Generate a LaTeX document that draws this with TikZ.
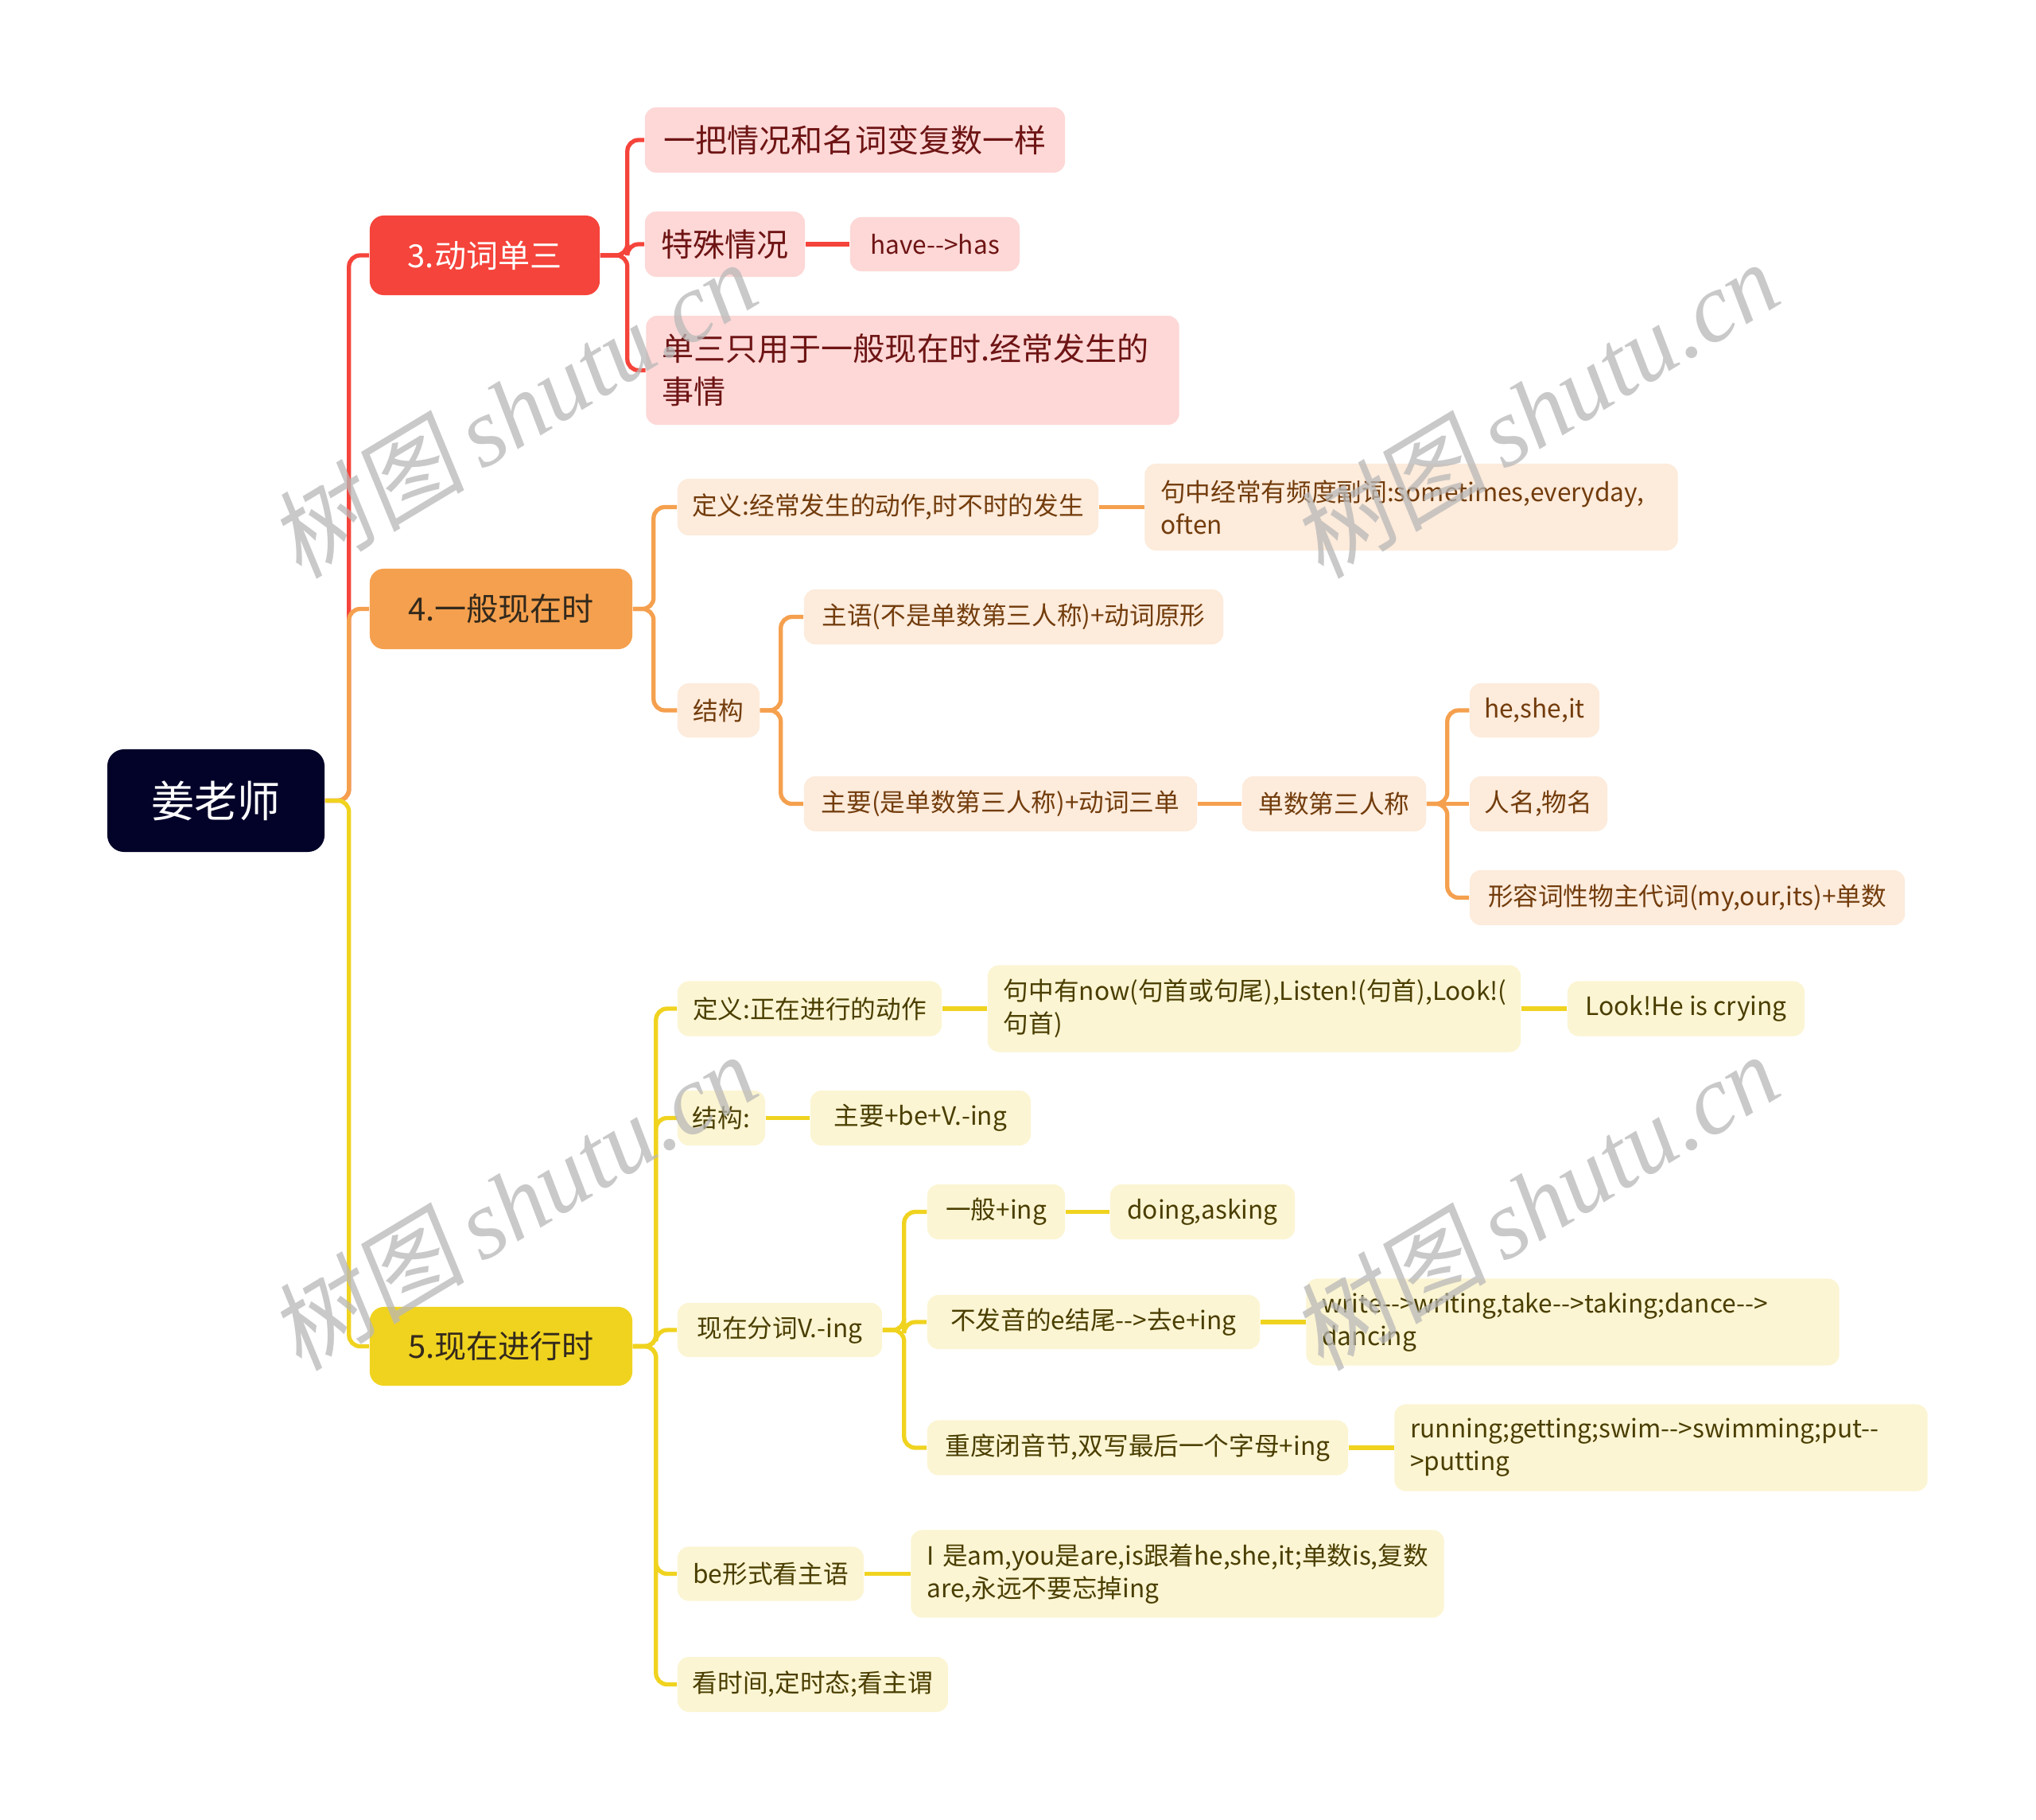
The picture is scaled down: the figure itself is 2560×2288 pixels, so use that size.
\documentclass[tikz,border=0pt]{standalone}
\usepackage{fontspec}
\setmainfont{Noto Sans CJK SC}[Ligatures=TeXOff]
\newfontfamily\wmlatin{Liberation Serif}
\newfontfamily\wmcjk{Noto Sans CJK SC}[FakeSlant=0.15]
\definecolor{rootc}{HTML}{03032A}
\definecolor{redc}{HTML}{F5443B}
\definecolor{redl}{HTML}{FDD8D7}
\definecolor{redt}{HTML}{6E1414}
\definecolor{orc}{HTML}{F5A04E}
\definecolor{orl}{HTML}{FDEBDB}
\definecolor{ort}{HTML}{723C0C}
\definecolor{yec}{HTML}{F0D31F}
\definecolor{yel}{HTML}{FCF5D3}
\definecolor{yet}{HTML}{4A3E00}
\definecolor{dark}{HTML}{33291C}
\definecolor{wmc}{HTML}{B8B8B8}
\tikzset{
  box/.style={rectangle, rounded corners=4pt, inner sep=0pt, align=center},
  multi/.style={align=left, inner xsep=0.2cm, text width=6.3cm},
  rootbox/.style={box, fill=rootc, text=white, rounded corners=6pt, font=\fontsize{15.4}{18}\selectfont},
  lone/.style={box, rounded corners=5pt, font=\fontsize{11.4}{15}\selectfont},
  rk/.style={box, fill=redl, text=redt, font=\fontsize{11.4}{15.4}\selectfont},
  rks/.style={box, fill=redl, text=redt, font=\fontsize{9}{11.7}\selectfont},
  ok/.style={box, fill=orl, text=ort, font=\fontsize{9}{11.7}\selectfont},
  yk/.style={box, fill=yel, text=yet, font=\fontsize{9}{11.7}\selectfont},
  conn/.style={line width=1.5pt, rounded corners=4pt},
  rl/.style={conn, draw=redc},
  ol/.style={conn, draw=orc},
  yl/.style={conn, draw=yec},
  wm/.style={text=wmc, opacity=0.75, inner sep=0pt}
}
\begin{document}
\begin{tikzpicture}[x=0.01cm, y=-0.01cm]
\useasboundingbox[fill=white] (0,0) rectangle (2560,2288);

% root and level 1
\node[rootbox, minimum width=2.73cm, minimum height=1.29cm] (root) at (271.5,1006.5) {姜老师};
\node[lone, fill=redc, text=white, minimum width=2.89cm, minimum height=1.00cm] (n3) at (609.5,321) {3.动词单三};
\node[lone, fill=orc, text=dark, minimum width=3.30cm, minimum height=1.01cm] (n4) at (630,765.5) {4.一般现在时};
\node[lone, fill=yec, text=dark, minimum width=3.30cm, minimum height=0.99cm] (n5) at (630,1692.5) {5.现在进行时};

% red branch
\node[rk, minimum width=5.28cm, minimum height=0.82cm] (a1) at (1075,176) {一把情况和名词变复数一样};
\node[rk, minimum width=2.01cm, minimum height=0.82cm] (a2) at (911.5,307) {特殊情况};
\node[rks, minimum width=2.13cm, minimum height=0.68cm] (a2a) at (1175.5,307) {have-->has};
\node[rk, multi, minimum height=1.37cm] (a3) at (1147.5,465.5) {单三只用于一般现在时.经常发生的\\事情};

% orange branch
\node[ok, minimum width=5.29cm, minimum height=0.71cm] (b1) at (1116.5,637.5) {定义:经常发生的动作,时不时的发生};
\node[ok, multi, minimum height=1.09cm] (b1a) at (1774.5,637.5) {句中经常有频度副词:sometimes,everyday,\\often};
\node[ok, minimum width=1.03cm, minimum height=0.68cm] (b2) at (903.5,893) {结构};
\node[ok, minimum width=5.27cm, minimum height=0.69cm] (b2a) at (1274.5,775.5) {主语(不是单数第三人称)+动词原形};
\node[ok, minimum width=4.94cm, minimum height=0.69cm] (b2b) at (1258,1010.5) {主要(是单数第三人称)+动词三单};
\node[ok, minimum width=2.31cm, minimum height=0.69cm] (b2b1) at (1677.5,1010.5) {单数第三人称};
\node[ok, minimum width=1.63cm, minimum height=0.68cm] (c1) at (1929.5,893) {he,she,it};
\node[ok, minimum width=1.73cm, minimum height=0.69cm] (c2) at (1934.5,1010.5) {人名,物名};
\node[ok, minimum width=5.47cm, minimum height=0.69cm] (c3) at (2121.5,1128.5) {形容词性物主代词(my,our,its)+单数};

% yellow branch
\node[yk, minimum width=3.32cm, minimum height=0.69cm] (d1) at (1018,1268) {定义:正在进行的动作};
\node[yk, multi, minimum height=1.09cm] (d1a) at (1577,1268) {句中有now(句首或句尾),Listen!(句首),Look!(\\句首)};
\node[yk, minimum width=2.98cm, minimum height=0.69cm] (d1b) at (2120,1268) {Look!He is crying};
\node[yk, minimum width=1.10cm, minimum height=0.69cm] (d2) at (907,1405.5) {结构:};
\node[yk, minimum width=2.77cm, minimum height=0.69cm] (d2a) at (1157.5,1405.5) {主要+be+V.-ing};
\node[yk, minimum width=2.57cm, minimum height=0.68cm] (d3) at (980.5,1672) {现在分词V.-ing};
\node[yk, minimum width=1.73cm, minimum height=0.69cm] (e1) at (1252.5,1523.5) {一般+ing};
\node[yk, minimum width=2.32cm, minimum height=0.69cm] (e1a) at (1512,1523.5) {doing,asking};
\node[yk, minimum width=4.18cm, minimum height=0.68cm] (e2) at (1375,1662) {不发音的e结尾-->去e+ing};
\node[yk, multi, minimum height=1.09cm] (e2a) at (1977.5,1662) {write-->writing,take-->taking;dance-->\\dancing};
\node[yk, minimum width=5.29cm, minimum height=0.69cm] (e3) at (1430.5,1820) {重度闭音节,双写最后一个字母+ing};
\node[yk, multi, minimum height=1.09cm] (e3a) at (2088.5,1820) {running;getting;swim-->swimming;put--\\>putting};
\node[yk, minimum width=2.34cm, minimum height=0.68cm] (d4) at (969,1978.5) {be形式看主语};
\node[yk, multi, minimum height=1.10cm] (d4a) at (1480.5,1978.5) {\mbox{I 是am,you是are,is跟着he,she,it;单数is,复数}\\are,永远不要忘掉ing};
\node[yk, minimum width=3.40cm, minimum height=0.69cm] (d5) at (1022,2117.5) {看时间,定时态;看主谓};

% connectors: root to level 1
\draw[rl] (root.east) -- ++(30,0) |- (n3.west);
\draw[ol] (root.east) -- ++(30,0) |- (n4.west);
\draw[yl] (root.east) -- ++(30,0) |- (n5.west);

% red
\draw[rl] (n3.east) -- ++(34,0) |- (a1.west);
\draw[rl] (n3.east) -- ++(34,0) |- (a2.west);
\draw[rl] (n3.east) -- ++(34,0) |- (a3.west);
\draw[rl] (a2.east) -- (a2a.west);

% orange
\draw[ol] (n4.east) -- ++(26,0) |- (b1.west);
\draw[ol] (n4.east) -- ++(26,0) |- (b2.west);
\draw[ol] (b1.east) -- (b1a.west);
\draw[ol] (b2.east) -- ++(26,0) |- (b2a.west);
\draw[ol] (b2.east) -- ++(26,0) |- (b2b.west);
\draw[ol] (b2b.east) -- (b2b1.west);
\draw[ol] (b2b1.east) -- ++(26,0) |- (c1.west);
\draw[ol] (b2b1.east) -- (c2.west);
\draw[ol] (b2b1.east) -- ++(26,0) |- (c3.west);

% yellow
\draw[yl] (n5.east) -- ++(29,0) |- (d1.west);
\draw[yl] (n5.east) -- ++(29,0) |- (d2.west);
\draw[yl] (n5.east) -- ++(29,0) |- (d3.west);
\draw[yl] (n5.east) -- ++(29,0) |- (d4.west);
\draw[yl] (n5.east) -- ++(29,0) |- (d5.west);
\draw[yl] (d1.east) -- (d1a.west);
\draw[yl] (d1a.east) -- (d1b.west);
\draw[yl] (d2.east) -- (d2a.west);
\draw[yl] (d3.east) -- ++(27,0) |- (e1.west);
\draw[yl] (d3.east) -- ++(27,0) |- (e2.west);
\draw[yl] (d3.east) -- ++(27,0) |- (e3.west);
\draw[yl] (e1.east) -- (e1a.west);
\draw[yl] (e2.east) -- (e2a.west);
\draw[yl] (e3.east) -- (e3a.west);
\draw[yl] (d4.east) -- (d4a.west);

% watermarks
\foreach \i/\px/\py in {1/645/514, 2/1930/514, 3/645/1510, 4/1930/1510}{
  \node[wm, rotate=31] (wm\i) at (\px,\py) {\fontsize{35}{40}\selectfont\wmcjk 树图\,\wmlatin\itshape shutu.cn};
}
\end{tikzpicture}
\end{document}
